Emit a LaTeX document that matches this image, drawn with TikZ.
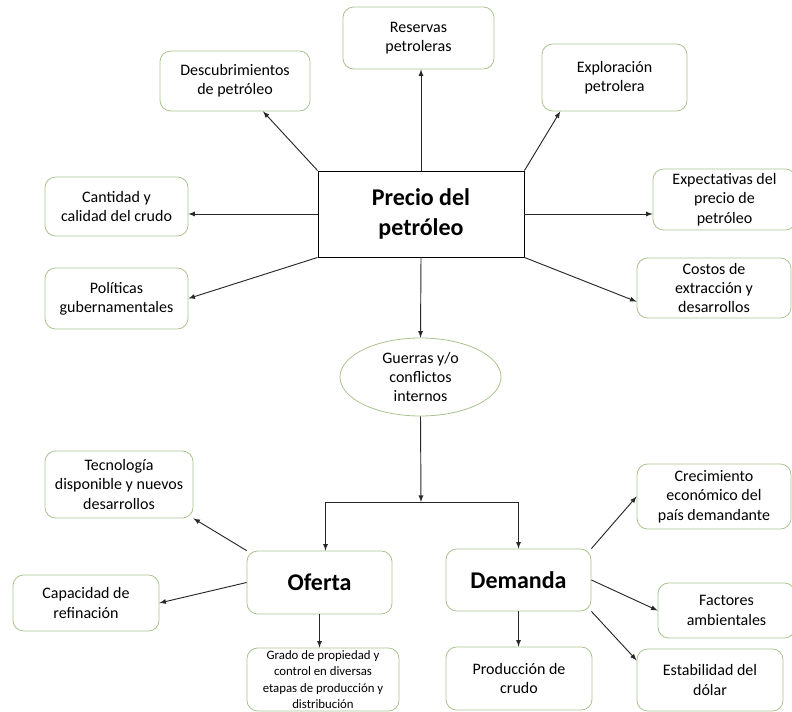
\documentclass[tikz,border=0pt]{standalone}
\usepackage{fontspec}
\setmainfont{Carlito}
\usepackage{tikz}
\usetikzlibrary{shapes}
\usetikzlibrary{positioning}
\definecolor{boxgreen}{RGB}{168,196,140}
\definecolor{linegray}{RGB}{40,40,40}

\begin{document}
\begin{tikzpicture}[x=0.75pt,y=-0.75pt,>=latex]
\tikzstyle{cause}=[draw=boxgreen,line width=0.6pt,rounded corners=8pt,fill=white,align=center,inner sep=0pt,font=\fontsize{12}{14.5}\selectfont]
\tikzstyle{big}=[font=\fontsize{18}{22.5}\selectfont\bfseries]
\tikzstyle{link}=[->,draw=linegray,line width=0.7pt]
\fill[white] (0,0) rectangle (792,712);
\useasboundingbox (0,0) rectangle (792,712);

\node[draw=black,line width=0.7pt,align=center,big,minimum width=154.5pt,minimum height=64.5pt] (N1) at (421,214) {Precio del\\petróleo};

\node[cause,minimum width=112.5pt,minimum height=45pt] (N2) at (235,81) {Descubrimientos\\de petróleo};
\node[cause,minimum width=113.25pt,minimum height=46.5pt] (N3) at (418.5,38) {Reservas\\petroleras};
\node[cause,minimum width=108.75pt,minimum height=50.25pt] (N4) at (614.5,77.5) {Exploración\\petrolera};
\node[cause,minimum width=107.25pt,minimum height=44.25pt] (N5) at (116.5,206.5) {Cantidad y\\calidad del crudo};
\node[cause,minimum width=107.25pt,minimum height=45.75pt] (N6) at (116.5,298.5) {Políticas\\gubernamentales};
\node[cause,minimum width=107.25pt,minimum height=45.75pt] (N7) at (724.5,199.5) {Expectativas del\\precio de\\petróleo};
\node[cause,minimum width=115.5pt,minimum height=45pt] (N8) at (714,288) {Costos de\\extracción y\\desarrollos};
\node[cause,ellipse,rounded corners=0pt,minimum width=120.75pt,minimum height=58.5pt,font=\fontsize{12}{14}\selectfont] (N9) at (420.5,377) {Guerras y/o\\conflictos\\internos};

\node[cause,big,minimum width=108.75pt,minimum height=47.25pt] (N10) at (319.5,582.5) {Oferta};
\node[cause,big,minimum width=108.75pt,minimum height=46.5pt] (N11) at (518.5,580) {Demanda};

\node[cause,minimum width=111pt,minimum height=50.25pt] (N12) at (119,484.5) {Tecnología\\disponible y nuevos\\desarrollos};
\node[cause,minimum width=109.5pt,minimum height=42pt] (N13) at (86,603) {Capacidad de\\refinación};
\node[cause,minimum width=114pt,minimum height=47.25pt,font=\fontsize{9.6}{12.4}\selectfont] (N14) at (323,679.5) {Grado de propiedad y\\control en diversas\\etapas de producción y\\distribución};
\node[cause,minimum width=115.5pt,minimum height=48.75pt] (N15) at (714,496.5) {Crecimiento\\económico del\\país demandante};
\node[cause,minimum width=102.75pt,minimum height=41.25pt] (N16) at (726.5,610.5) {Factores\\ambientales};
\node[cause,minimum width=109.5pt,minimum height=46.5pt] (N17) at (710,680) {Estabilidad del\\dólar};
\node[cause,minimum width=109.5pt,minimum height=47.25pt] (N18) at (519,678.5) {Producción de\\crudo};

\draw[link] (N1.north west) -- (N2);
\draw[link] (N1.north) -- (N1.north |- N3.south);
\draw[link] (N1.north east) -- (N4.212);
\draw[link] (N1.west) -- (N1.west -| N5.east);
\draw[link] (N1.south west) -- (N6.east);
\draw[link] (N1.east) -- (N1.east -| N7.west);
\draw[link] (N1.south east) -- (N8.190);
\draw[link] (N1.south) -- (N9.north);

\coordinate (J) at (421,502);
\draw[link] (N9.south) -- (J);
\draw[link] (J) -| ([xshift=4.5pt]N10.north);
\draw[link] (J) -| (N11.north);

\draw[link] (N10.north west) -- (N12.south east);
\draw[link] (N10.west) -- (N13.east);
\draw[link] (N10.south) -- (N10.south |- N14.north);
\draw[link] (N11.north east) -- (N15.west);
\draw[link] (N11.east) -- (N16.west);
\draw[link] (N11.south east) -- (N17.165);
\draw[link] (N11.south) -- (N11.south |- N18.north);
\end{tikzpicture}
\end{document}
